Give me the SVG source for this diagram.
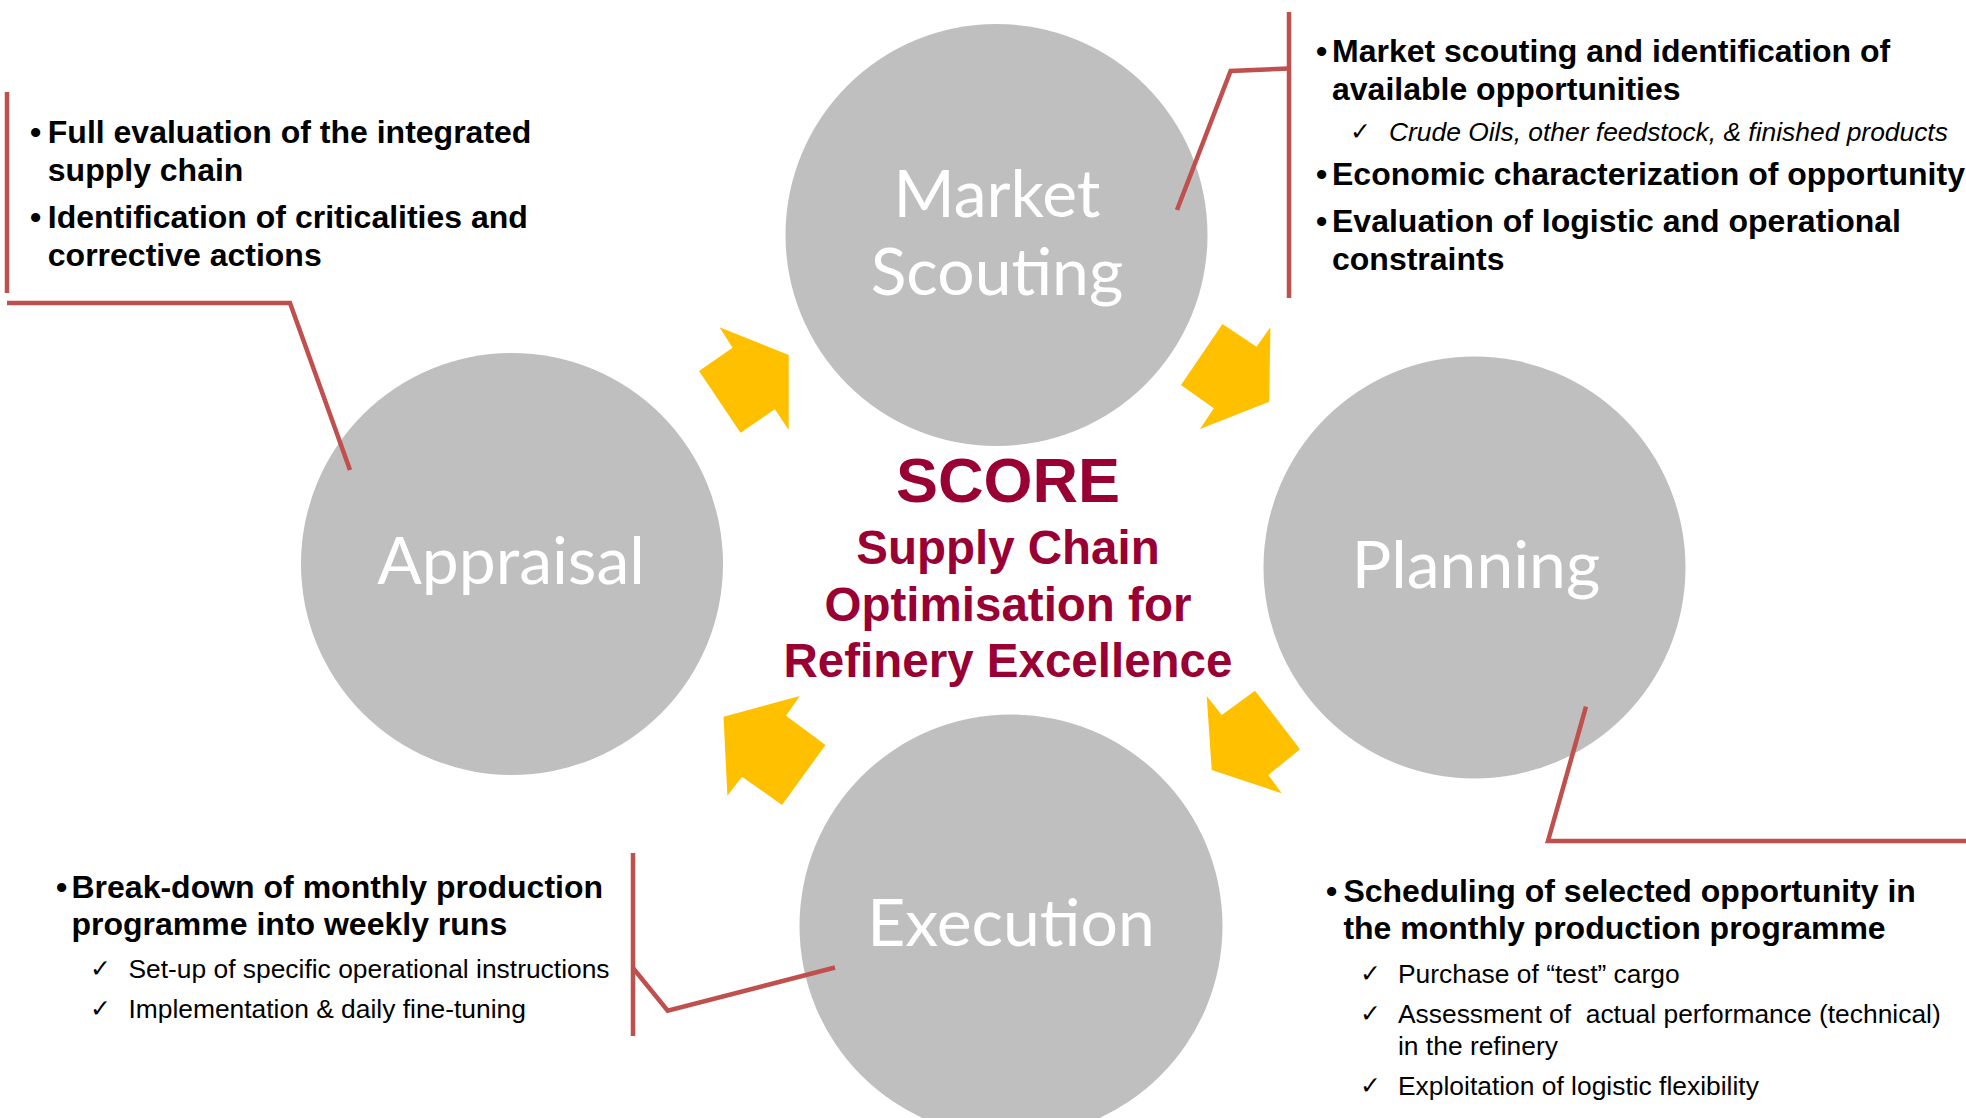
<svg xmlns="http://www.w3.org/2000/svg" width="1966" height="1118" viewBox="0 0 1966 1118">
<style>
.circ{fill:#BFBFBF}
.lbl{font-family:Lato,"Open Sans",sans-serif;font-size:66px;fill:#FFFFFF;text-anchor:middle}
.arr{fill:#FFC000}
.con{fill:none;stroke:#C0504D;stroke-width:4.5;stroke-linejoin:miter}
.b{font-family:"Liberation Sans",Arial,sans-serif;font-weight:bold;font-size:32px;fill:#000}
.s{font-family:"Liberation Sans",Arial,sans-serif;font-size:26.4px;fill:#000;white-space:pre}
.si{font-family:"Liberation Sans",Arial,sans-serif;font-size:26.4px;font-style:italic;fill:#000}
.ck{font-family:"DejaVu Sans",sans-serif;font-size:25px;fill:#000}
.t{font-family:"Liberation Sans",Arial,sans-serif;font-weight:bold;fill:#990033;text-anchor:middle}
</style>
<rect width="1966" height="1118" fill="#FFFFFF"/>
<g id="market-scouting">
<circle class="circ" cx="996.5" cy="235" r="211"/>
<text class="lbl" x="997" y="217">Market</text>
<text class="lbl" x="997" y="295">Scouting</text>
</g>
<g id="appraisal">
<circle class="circ" cx="512" cy="564" r="211"/>
<text class="lbl" x="511" y="584">Appraisal</text>
</g>
<g id="planning">
<circle class="circ" cx="1474.5" cy="567.5" r="211"/>
<text class="lbl" x="1476" y="588">Planning</text>
</g>
<g id="execution">
<circle class="circ" cx="1011" cy="926" r="211.5"/>
<text class="lbl" x="1011" y="946">Execution</text>
</g>
<g id="arrows">
<polygon class="arr" points="719.5,327.3 788.7,355 788.7,430 774.9,409.3 740.5,432.7 699,371 732.6,347.7"/>
<polygon class="arr" points="1222.5,324 1181,385 1213.8,408.3 1200,429 1269.2,401.7 1270.4,327.3 1256.5,346.7"/>
<polygon class="arr" points="1255,690.7 1300,749.3 1268.3,775 1281.7,793.3 1211.7,770 1206.7,696 1221.7,715"/>
<polygon class="arr" points="799.8,696 786,715.7 825.5,745 782,805 742,776.7 727.4,795.7 723.5,716.7"/>
</g>
<g id="connectors">
<line class="con" x1="7" y1="92" x2="7" y2="293"/>
<polyline class="con" points="7,303 290,303 350,470"/>
<line class="con" x1="1289" y1="12" x2="1289" y2="298"/>
<polyline class="con" points="1289,68.5 1230.6,71 1177,210"/>
<line class="con" x1="633" y1="853" x2="633" y2="1036"/>
<polyline class="con" points="633,968 667.7,1010.7 835,967.5"/>
<polyline class="con" points="1586,706.7 1548,841 1966,841"/>
</g>
<g id="center-title">
<text class="t" x="1008" y="501.5" font-size="63">SCORE</text>
<text class="t" x="1008" y="563.5" font-size="47.5">Supply Chain</text>
<text class="t" x="1008" y="620.5" font-size="47.5">Optimisation for</text>
<text class="t" x="1008" y="677" font-size="47.5">Refinery Excellence</text>
</g>
<g id="appraisal-notes">
<text class="b" x="30" y="143">•</text>
<text class="b" x="47.8" y="143">Full evaluation of the integrated</text>
<text class="b" x="47.8" y="181">supply chain</text>
<text class="b" x="30" y="228">•</text>
<text class="b" x="47.8" y="228">Identification of criticalities and</text>
<text class="b" x="47.8" y="266">corrective actions</text>
</g>
<g id="market-notes">
<text class="b" x="1316" y="62">•</text>
<text class="b" x="1332" y="62">Market scouting and identification of</text>
<text class="b" x="1332" y="100">available opportunities</text>
<text class="ck" x="1350" y="140">✓</text>
<text class="si" x="1389" y="141">Crude Oils, other feedstock, &amp; finished products</text>
<text class="b" x="1316" y="185">•</text>
<text class="b" x="1332" y="185">Economic characterization of opportunity</text>
<text class="b" x="1316" y="232">•</text>
<text class="b" x="1332" y="232">Evaluation of logistic and operational</text>
<text class="b" x="1332" y="270">constraints</text>
</g>
<g id="execution-notes">
<text class="b" x="56" y="898">•</text>
<text class="b" x="71.5" y="898">Break-down of monthly production</text>
<text class="b" x="71.5" y="935">programme into weekly runs</text>
<text class="ck" x="90" y="977">✓</text>
<text class="s" x="128.4" y="977.5">Set-up of specific operational instructions</text>
<text class="ck" x="90" y="1017">✓</text>
<text class="s" x="128.4" y="1017.5">Implementation &amp; daily fine-tuning</text>
</g>
<g id="planning-notes">
<text class="b" x="1326" y="902">•</text>
<text class="b" x="1343.4" y="902">Scheduling of selected opportunity in</text>
<text class="b" x="1343.4" y="939">the monthly production programme</text>
<text class="ck" x="1360" y="982">✓</text>
<text class="s" x="1398" y="982.5">Purchase of “test” cargo</text>
<text class="ck" x="1360" y="1022">✓</text>
<text class="s" x="1398" y="1022.5">Assessment of  actual performance (technical)</text>
<text class="s" x="1398" y="1054.5">in the refinery</text>
<text class="ck" x="1360" y="1094">✓</text>
<text class="s" x="1398" y="1094.5">Exploitation of logistic flexibility</text>
</g>
</svg>
